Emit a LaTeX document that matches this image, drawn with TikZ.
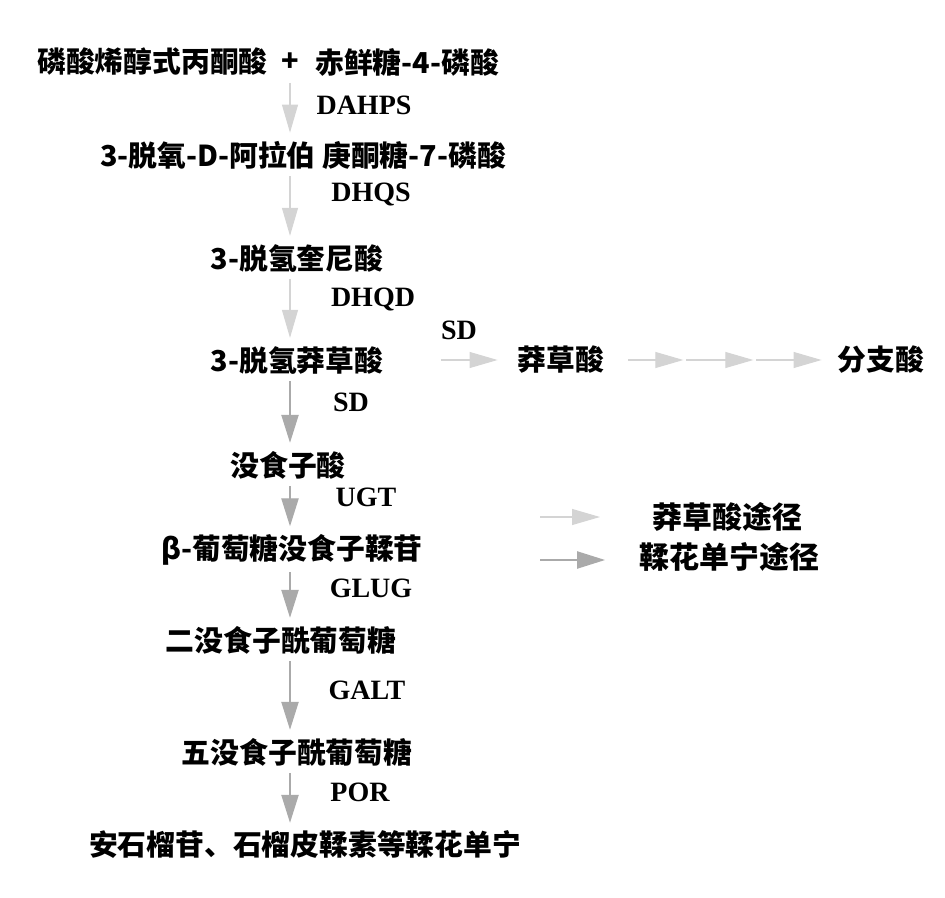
\documentclass[tikz,border=0pt]{standalone}
\usepackage{fontspec}
\setmainfont{Liberation Serif}
\newfontfamily\cjk{Noto Sans CJK SC}
\usetikzlibrary{arrows.meta}

\definecolor{skgray}{RGB}{212,212,212}
\definecolor{etgray}{RGB}{170,170,170}

\tikzset{
  cn/.style={inner sep=0pt, font=\cjk\bfseries\fontsize{21.6}{25}\selectfont},
  enz/.style={inner sep=0pt, font=\bfseries\fontsize{21}{24}\selectfont},
  skpath/.style={draw=skgray, line width=0.8pt,
    -{Triangle[length=21pt,width=12pt,fill=skgray]}},
  etpath/.style={draw=etgray, line width=0.9pt,
    -{Triangle[length=21pt,width=13pt,fill=etgray]}},
  vstep/.style={shorten <=5pt, shorten >=6pt}
}

\begin{document}
\begin{tikzpicture}[x=0.75pt,y=0.75pt,yscale=-1,xscale=1]
\useasboundingbox (0,0) rectangle (945,898);

% Text Node
\node [cn, anchor=east] (pep) at (268,62) {磷酸烯醇式丙酮酸};
% Text Node
\node [cn] (plus) at (290,62) {+};
% Text Node
\node [cn, anchor=west] (e4p) at (315,62) {赤鲜糖-4-磷酸};
% Text Node
\node [cn] (dahp) at (303,155) {3-脱氧-D-阿拉伯 庚酮糖-7-磷酸};
% Text Node
\node [cn] (dhq) at (297,258) {3-脱氢奎尼酸};
% Text Node
\node [cn] (dhs) at (297,360) {3-脱氢莽草酸};
% Text Node
\node [cn] (shik) at (561,360) {莽草酸};
% Text Node
\node [cn] (chor) at (881,360) {分支酸};
% Text Node
\node [cn] (ga) at (288,465) {没食子酸};
% Text Node
\node [cn] (bg) at (292,550) {β-葡萄糖没食子鞣苷};
% Text Node
\node [cn] (dgg) at (281,640) {二没食子酰葡萄糖};
% Text Node
\node [cn] (pgg) at (297,752) {五没食子酰葡萄糖};
% Text Node
\node [cn] (et) at (305,845) {安石榴苷、石榴皮鞣素等鞣花单宁};

% Text Node
\node [enz] (dahps) at (364,105) {DAHPS};
% Text Node
\node [enz] (dhqs) at (371,195) {DHQS};
% Text Node
\node [enz] (dhqd) at (373,300) {DHQD};
% Text Node
\node [enz] (sdh) at (459,330) {SD};
% Text Node
\node [enz] (sdv) at (351,402) {SD};
% Text Node
\node [enz] (ugt) at (366,497) {UGT};
% Text Node
\node [enz] (glug) at (371,588) {GLUG};
% Text Node
\node [enz] (galt) at (367,690) {GALT};
% Text Node
\node [enz] (por) at (360,792) {POR};

% Text Node
\node [cn, font=\cjk\bfseries\fontsize{22.5}{26}\selectfont] (lsk) at (727,517) {莽草酸途径};
% Text Node
\node [cn, font=\cjk\bfseries\fontsize{22.5}{26}\selectfont] (let) at (729,557) {鞣花单宁途径};

\coordinate (ax) at (290,0);
\coordinate (m1) at (686,360);
\coordinate (m2) at (756,360);
\coordinate (l1a) at (540,517);
\coordinate (l1b) at (600,517);
\coordinate (l2a) at (540,560);
\coordinate (l2b) at (605,560);

%Straight Lines
\draw [skpath, vstep] (e4p.south -| ax) -- (dahp.north -| ax);
\draw [skpath, vstep] (dahp.south -| ax) -- (dhq.north -| ax);
\draw [skpath, vstep] (dhq.south -| ax) -- (dhs.north -| ax);
\draw [etpath, vstep] (dhs.south -| ax) -- (ga.north -| ax);
\draw [etpath, vstep] (ga.south -| ax) -- (bg.north -| ax);
\draw [etpath, vstep] (bg.south -| ax) -- (dgg.north -| ax);
\draw [etpath, vstep] (dgg.south -| ax) -- (pgg.north -| ax);
\draw [etpath, vstep] (pgg.south -| ax) -- (et.north -| ax);

%Straight Lines
\draw [skpath, shorten >=15pt] (sdh.west |- dhs.east) -- (shik.west);
\draw [skpath, shorten <=18pt, shorten >=2pt] (shik.east) -- (m1);
\draw [skpath, shorten >=2pt] (m1) -- (m2);
\draw [skpath, shorten >=12pt] (m2) -- (chor.west);

%Straight Lines
\draw [skpath] (l1a) -- (l1b);
\draw [etpath] (l2a) -- (l2b);

\end{tikzpicture}
\end{document}
